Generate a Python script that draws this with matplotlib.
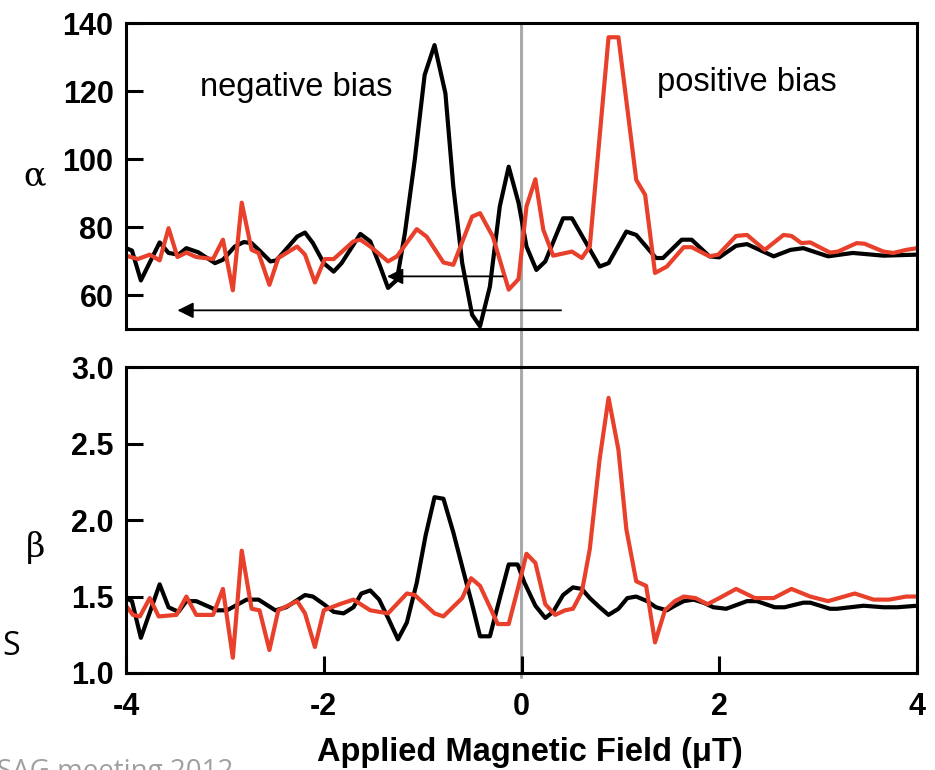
import matplotlib
matplotlib.use("Agg")
import matplotlib.pyplot as plt
from matplotlib.patches import ConnectionPatch

# values; black = negative bias, red = positive bias
alpha_neg_field = [-4.0, -3.94, -3.85, -3.66, -3.57, -3.47, -3.39, -3.27, -3.10, -3.02, -2.90, -2.81,
                   -2.73, -2.65, -2.54, -2.48, -2.27, -2.19, -2.11, -2.00, -1.90, -1.82, -1.63, -1.53,
                   -1.43, -1.35, -1.26, -1.18, -1.08, -0.98, -0.88, -0.77, -0.69, -0.60, -0.50, -0.42,
                   -0.32, -0.22, -0.13, -0.03, 0.05, 0.15, 0.24, 0.42, 0.51, 0.79, 0.88, 1.06, 1.16,
                   1.36, 1.43, 1.62, 1.72, 1.90, 2.00, 2.17, 2.28, 2.55, 2.72, 2.85, 3.10, 3.35, 3.66, 4.0]
alpha_neg = [73.8, 73.1, 64.3, 75.5, 72.4, 71.9, 73.8, 72.6, 69.4, 70.4, 74.3, 75.6,
             75.3, 73.1, 69.9, 70.2, 77.2, 78.4, 75.3, 69.4, 66.9, 69.4, 78.0, 75.8,
             68.4, 62.1, 64.5, 78.2, 99.8, 124.8, 133.6, 119.4, 91.9, 69.4, 54.2, 50.8,
             62.5, 86.1, 97.8, 87.1, 74.3, 67.4, 69.9, 82.6, 82.6, 68.4, 69.4, 78.7, 77.7,
             70.9, 70.9, 76.3, 76.3, 71.4, 71.1, 74.5, 75.0, 71.4, 73.3, 73.8, 71.4, 72.4, 71.6, 71.9]

alpha_pos_field = [-4.0, -3.88, -3.76, -3.66, -3.57, -3.48, -3.39, -3.29, -3.12, -3.02, -2.92, -2.83,
                   -2.73, -2.66, -2.55, -2.46, -2.27, -2.19, -2.09, -1.99, -1.90, -1.70, -1.63, -1.53,
                   -1.35, -1.26, -1.06, -0.96, -0.79, -0.69, -0.50, -0.42, -0.29, -0.13, -0.03, 0.05,
                   0.14, 0.22, 0.32, 0.51, 0.61, 0.69, 0.88, 0.98, 1.16, 1.25, 1.35, 1.47, 1.64, 1.72,
                   1.90, 1.99, 2.17, 2.28, 2.46, 2.65, 2.73, 2.83, 2.92, 3.12, 3.20, 3.39, 3.47, 3.66,
                   3.76, 3.89, 4.0]
alpha_pos = [71.6, 70.6, 71.9, 70.2, 79.7, 71.2, 72.5, 71.2, 70.6, 76.3, 61.4, 87.2,
             73.3, 72.4, 63.0, 70.9, 74.3, 71.9, 63.7, 70.6, 70.6, 75.8, 76.3, 74.3,
             69.9, 71.4, 79.4, 77.2, 69.6, 68.9, 83.1, 84.1, 77.2, 61.6, 64.7, 86.1,
             94.1, 79.2, 71.6, 72.8, 70.9, 74.3, 135.9, 135.9, 93.9, 89.5, 66.5, 68.4, 74.1, 74.1,
             71.4, 71.9, 77.4, 77.7, 73.3, 77.7, 77.4, 75.3, 75.5, 72.5, 72.8, 75.3, 75.1, 72.8,
             72.4, 73.3, 73.8]

beta_neg_field = [-4.0, -3.94, -3.85, -3.66, -3.57, -3.47, -3.39, -3.29, -3.08, -2.98, -2.78, -2.66,
                  -2.49, -2.38, -2.19, -2.11, -2.00, -1.90, -1.80, -1.70, -1.62, -1.53, -1.44, -1.35,
                  -1.25, -1.16, -1.06, -0.97, -0.88, -0.79, -0.69, -0.59, -0.50, -0.42, -0.32, -0.22,
                  -0.13, -0.04, 0.03, 0.14, 0.24, 0.32, 0.42, 0.52, 0.61, 0.69, 0.79, 0.88, 0.98,
                  1.07, 1.16, 1.27, 1.36, 1.47, 1.55, 1.64, 1.74, 1.84, 1.94, 2.07, 2.28, 2.38, 2.56,
                  2.66, 2.85, 2.92, 3.12, 3.19, 3.46, 3.66, 3.80, 4.0]
beta_neg = [1.49, 1.47, 1.23, 1.58, 1.43, 1.40, 1.47, 1.47, 1.41, 1.41, 1.48, 1.48,
            1.41, 1.43, 1.51, 1.50, 1.45, 1.40, 1.39, 1.43, 1.52, 1.54, 1.48, 1.36,
            1.22, 1.33, 1.59, 1.90, 2.15, 2.14, 1.92, 1.67, 1.45, 1.24, 1.24, 1.49,
            1.71, 1.71, 1.59, 1.44, 1.36, 1.40, 1.51, 1.56, 1.55, 1.49, 1.43, 1.38, 1.42,
            1.49, 1.50, 1.47, 1.43, 1.41, 1.44, 1.47, 1.48, 1.46, 1.43, 1.42, 1.47, 1.47, 1.43,
            1.43, 1.46, 1.46, 1.42, 1.42, 1.44, 1.43, 1.43, 1.44]

beta_pos_field = [-4.0, -3.93, -3.86, -3.76, -3.67, -3.49, -3.39, -3.29, -3.12, -3.02, -2.92, -2.83,
                  -2.73, -2.65, -2.55, -2.46, -2.27, -2.19, -2.09, -2.00, -1.84, -1.70, -1.53, -1.35,
                  -1.16, -1.08, -0.88, -0.79, -0.60, -0.51, -0.42, -0.24, -0.13, -0.03, 0.05, 0.14,
                  0.24, 0.34, 0.44, 0.52, 0.61, 0.69, 0.79, 0.88, 0.98, 1.06, 1.16, 1.26, 1.35, 1.45,
                  1.55, 1.64, 1.76, 1.88, 2.00, 2.17, 2.36, 2.55, 2.73, 2.92, 3.10, 3.37, 3.56, 3.72,
                  3.89, 4.0]
beta_pos = [1.44, 1.38, 1.37, 1.49, 1.37, 1.38, 1.50, 1.38, 1.38, 1.55, 1.10, 1.80,
            1.42, 1.41, 1.15, 1.41, 1.47, 1.39, 1.17, 1.41, 1.45, 1.48, 1.41, 1.39,
            1.52, 1.51, 1.39, 1.37, 1.49, 1.62, 1.57, 1.32, 1.32, 1.57, 1.78, 1.72,
            1.45, 1.38, 1.41, 1.42, 1.53, 1.81, 2.40, 2.80, 2.46, 1.94, 1.60, 1.57, 1.20, 1.41,
            1.47, 1.50, 1.49, 1.45, 1.49, 1.55, 1.49, 1.49, 1.55, 1.50, 1.47, 1.52, 1.48, 1.48,
            1.50, 1.50]

alpha_ticks = [60, 80, 100, 120, 140]
beta_ticks = [1.0, 1.5, 2.0, 2.5, 3.0]
field_ticks = [-4, -2, 0, 2, 4]

RED = "#e8402a"
LW = 3.0
tick_font = dict(family="Liberation Sans", weight="bold", size=22)

fig = plt.figure(figsize=(9.35, 7.7), dpi=100)
ax1 = fig.add_axes([0.1348, 0.5727, 0.846, 0.397])
ax2 = fig.add_axes([0.1348, 0.126, 0.846, 0.397])

ax1.plot(alpha_neg_field, alpha_neg, color="black", lw=LW)
ax1.plot(alpha_pos_field, alpha_pos, color=RED, lw=LW)
ax2.plot(beta_neg_field, beta_neg, color="black", lw=LW)
ax2.plot(beta_pos_field, beta_pos, color=RED, lw=LW)

ax1.set_ylim(50, 140)
ax2.set_ylim(1.0, 3.0)
for ax in (ax1, ax2):
    ax.set_xlim(-4, 4)
    ax.patch.set_visible(False)
    for s in ax.spines.values():
        s.set_linewidth(2.2)
    ax.tick_params(direction="in", length=12, width=2.2, pad=9)

ax1.set_yticks(alpha_ticks)
ax1.set_yticklabels([str(t) for t in alpha_ticks], fontdict=tick_font)
ax1.tick_params(axis="x", bottom=False, labelbottom=False)

ax2.set_yticks(beta_ticks)
ax2.set_yticklabels([f"{t:.1f}" for t in beta_ticks], fontdict=tick_font)
ax2.set_xticks(field_ticks)
ax2.set_xticklabels([str(t) for t in field_ticks], fontdict=tick_font)
ax2.tick_params(axis="x", pad=14)

ax1.set_ylabel("α", family="DejaVu Serif", fontsize=24, rotation=0, ha="center", va="center")
ax1.yaxis.set_label_coords(-0.115, 0.5)
ax2.set_ylabel("β", family="DejaVu Serif", fontsize=24, rotation=0, ha="center", va="center")
ax2.yaxis.set_label_coords(-0.115, 0.41)
ax2.set_xlabel("Applied Magnetic Field (μT)", family="Liberation Sans", weight="bold", fontsize=23.5)
ax2.xaxis.set_label_coords(0.51, -0.21)

ax1.text(-3.25, 121, "negative bias", family="Liberation Sans", fontsize=23.5, va="center")
ax1.text(1.37, 122.7, "positive bias", family="Liberation Sans", fontsize=23.5, va="center")

# sweep-direction arrows
arrow = dict(arrowstyle="-|>", color="black", lw=1.3, mutation_scale=24, shrinkA=0, shrinkB=0)
ax1.annotate("", xy=(-3.48, 55.5), xytext=(0.40, 55.5), arrowprops=arrow)
ax1.annotate("", xy=(-1.36, 65.5), xytext=(-0.19, 65.5), arrowprops=arrow)

# zero-field marker running through both panels, behind the data
zero = ConnectionPatch(xyA=(0, 140), coordsA=ax1.transData, xyB=(0, 0.97), coordsB=ax2.transData,
                       color="#aaaaaa", lw=2.2, zorder=-1)
fig.add_artist(zero)

fig.text(0.003, 0.149, "S", family="Open Sans", fontsize=23)
fig.text(-0.003, -0.012, "SAG meeting 2012", family="Open Sans", fontsize=20, color="#a0a0a0")

fig.savefig("out.png", dpi=100)
